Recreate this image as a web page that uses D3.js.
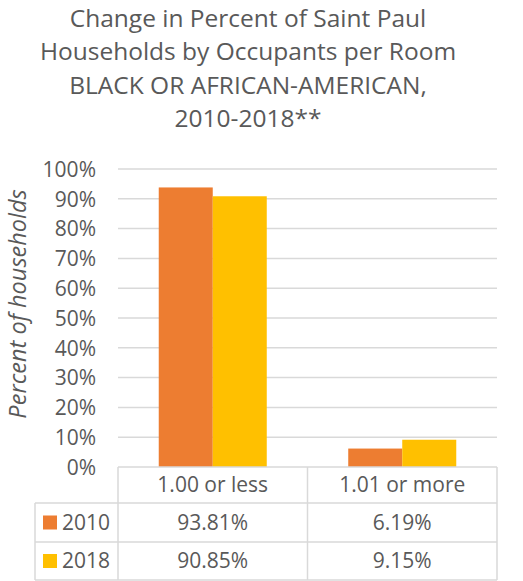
<!DOCTYPE html>
<html>
<head>
<meta charset="utf-8">
<title>Occupants per Room - Black or African-American</title>
<script src="https://cdn.jsdelivr.net/npm/d3@7"></script>
<style>
  body { margin: 0; background: #fff; }
  text { font-family: "Open Sans", sans-serif; fill: #595959; }
</style>
</head>
<body>
<svg id="vis" width="523" height="581"></svg>
<script>
// data
var categories = ["1.00 or less", "1.01 or more"];
var seriesNames = ["2010", "2018"];
var values2010 = [0.9381, 0.0619];
var values2018 = [0.9085, 0.0915];
var seriesColors = ["#ED7D31", "#FFC000"];
var yTicks = [0, 0.1, 0.2, 0.3, 0.4, 0.5, 0.6, 0.7, 0.8, 0.9, 1.0];
var titleLines = ["Change in Percent of Saint Paul", "Households by Occupants per Room",
                  "BLACK OR AFRICAN-AMERICAN,", "2010-2018**"];

var series = [values2010, values2018];
var svg = d3.select("#vis");
var gridColor = "#d9d9d9";

var plotLeft = 118, plotRight = 497, plotTop = 169, plotBottom = 467;
var rowH = [36, 39, 38]; // header row, 2010 row, 2018 row
var legendLeft = 35;

var y = d3.scaleLinear().domain([0, 1]).range([plotBottom, plotTop]);
var x0 = d3.scaleBand().domain(categories).range([plotLeft, plotRight]).padding(0);
var bw = x0.bandwidth();
var x1 = d3.scaleBand().domain(seriesNames).range([bw * 0.215, bw * 0.785]).padding(0);
var pct = d3.format(".0%");
var pct2 = d3.format(".2%");

// title
svg.append("g").selectAll("text").data(titleLines).enter().append("text")
  .attr("x", 248).attr("y", function (d, i) { return 27 + i * 33.3; })
  .attr("text-anchor", "middle").style("font-size", "24.5px")
  .text(function (d) { return d; });

// gridlines
svg.append("g").selectAll("line").data(yTicks.slice(1)).enter().append("line")
  .attr("x1", plotLeft).attr("x2", plotRight)
  .attr("y1", function (d) { return y(d); }).attr("y2", function (d) { return y(d); })
  .attr("stroke", gridColor).attr("stroke-width", 1.5);

// y axis labels
var yAxis = d3.axisLeft(y).tickValues(yTicks).tickFormat(pct).tickSize(0).tickPadding(0);
var ya = svg.append("g").attr("transform", "translate(96,0)").call(yAxis);
ya.select(".domain").remove();
ya.selectAll("text").style("font-size", "21px").attr("fill", "#595959")
  .attr("font-family", "Open Sans").attr("dy", "0.35em");

// y axis title
svg.append("text")
  .attr("transform", "translate(26,304) rotate(-90)")
  .attr("text-anchor", "middle").style("font-size", "23.5px").style("font-style", "italic")
  .text("Percent of households");

// bars
var groups = svg.append("g").selectAll("g").data(categories).enter().append("g")
  .attr("transform", function (d) { return "translate(" + x0(d) + ",0)"; });
groups.selectAll("rect")
  .data(function (d, ci) { return seriesNames.map(function (s, si) { return { s: s, v: series[si][ci], c: seriesColors[si] }; }); })
  .enter().append("rect")
  .attr("x", function (d) { return x1(d.s); })
  .attr("width", x1.bandwidth())
  .attr("y", function (d) { return y(d.v); })
  .attr("height", function (d) { return plotBottom - y(d.v); })
  .attr("fill", function (d) { return d.c; });

// data table
var t = svg.append("g").attr("stroke", gridColor).attr("stroke-width", 1.5);
var r0 = plotBottom, r1 = r0 + rowH[0], r2 = r1 + rowH[1], r3 = r2 + rowH[2];
var colEdges = [plotLeft].concat(categories.map(function (c) { return x0(c) + bw; }));
t.append("line").attr("x1", plotLeft).attr("x2", plotRight).attr("y1", r0).attr("y2", r0);
[r1, r2, r3].forEach(function (ry) {
  t.append("line").attr("x1", legendLeft).attr("x2", plotRight).attr("y1", ry).attr("y2", ry);
});
colEdges.forEach(function (cx) {
  t.append("line").attr("x1", cx).attr("x2", cx).attr("y1", r0).attr("y2", r3);
});
t.append("line").attr("x1", legendLeft).attr("x2", legendLeft).attr("y1", r1).attr("y2", r3);

// category headers
svg.append("g").selectAll("text").data(categories).enter().append("text")
  .attr("x", function (d) { return x0(d) + bw / 2; })
  .attr("y", (r0 + r1) / 2).attr("dy", "0.35em")
  .attr("text-anchor", "middle").style("font-size", "21px")
  .text(function (d) { return d; });

// rows
var rowMid = [(r1 + r2) / 2, (r2 + r3) / 2];
seriesNames.forEach(function (s, si) {
  svg.append("rect").attr("x", 43).attr("y", rowMid[si] - 7).attr("width", 14).attr("height", 14)
    .attr("fill", seriesColors[si]);
  svg.append("text").attr("x", 62).attr("y", rowMid[si]).attr("dy", "0.35em")
    .style("font-size", "21px").text(s);
  svg.append("g").selectAll("text").data(series[si]).enter().append("text")
    .attr("x", function (d, ci) { return x0(categories[ci]) + bw / 2; })
    .attr("y", rowMid[si]).attr("dy", "0.35em")
    .attr("text-anchor", "middle").style("font-size", "21px")
    .text(function (d) { return pct2(d); });
});
</script>
</body>
</html>
